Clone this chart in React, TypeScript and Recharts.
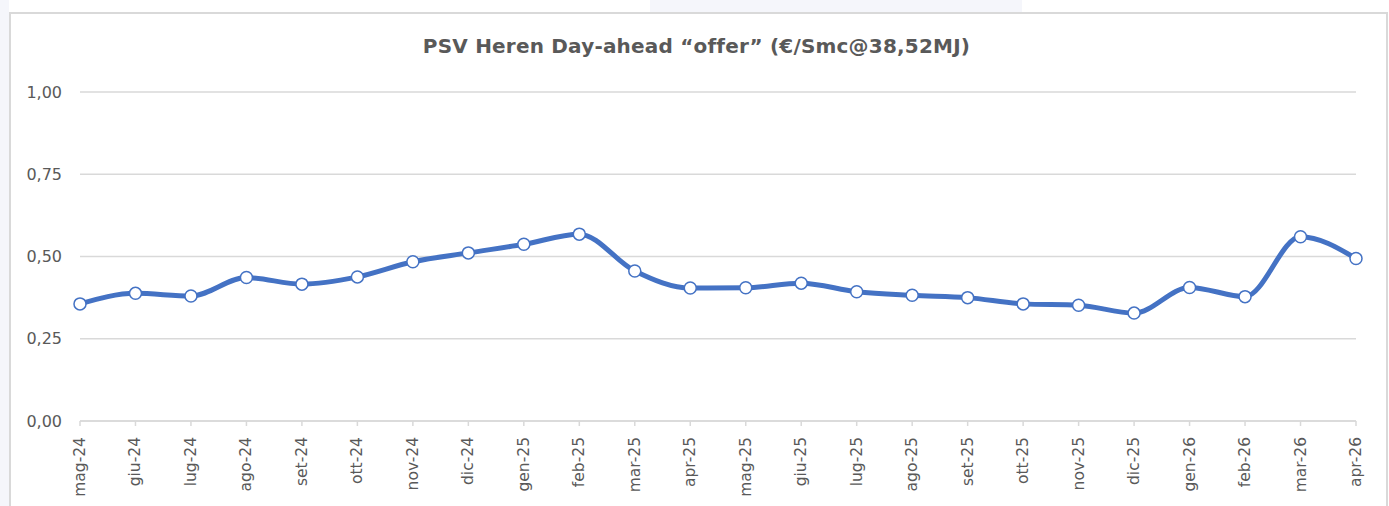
import { CartesianGrid, Line, LineChart, XAxis, YAxis } from "recharts";

const months = [
  "mag-24", "giu-24", "lug-24", "ago-24", "set-24", "ott-24", "nov-24", "dic-24",
  "gen-25", "feb-25", "mar-25", "apr-25", "mag-25", "giu-25", "lug-25", "ago-25",
  "set-25", "ott-25", "nov-25", "dic-25", "gen-26", "feb-26", "mar-26", "apr-26",
];

const offer = [
  0.356, 0.388, 0.38, 0.436, 0.416, 0.438, 0.484, 0.511,
  0.537, 0.568, 0.456, 0.404, 0.405, 0.419, 0.393, 0.382,
  0.375, 0.356, 0.352, 0.328, 0.406, 0.378, 0.56, 0.494,
];

const yTicks = [0, 0.25, 0.5, 0.75, 1];

const data = months.map((m, i) => ({ month: m, offer: offer[i] }));

const FONT = "'DejaVu Sans', Verdana, sans-serif";
const TEXT = "#595959";
const GRID = "#d9d9d9";
const BLUE = "#4472C4";

const fmt = (v: number) => v.toFixed(2).replace(".", ",");

function MonthTick({ x, y, payload }: any) {
  return (
    <text
      transform={`translate(${x},${y + 9}) rotate(-90)`}
      textAnchor="end"
      dominantBaseline="central"
      fontFamily={FONT}
      fontSize={15.5}
      fill={TEXT}
    >
      {payload.value}
    </text>
  );
}

function ValueTick({ y, payload }: any) {
  return (
    <text
      x={62}
      y={y}
      textAnchor="end"
      dominantBaseline="central"
      fontFamily={FONT}
      fontSize={16}
      fill={TEXT}
    >
      {fmt(payload.value)}
    </text>
  );
}

export default function App() {
  return (
    <div
      style={{
        position: "absolute",
        left: 0,
        top: 0,
        width: 1389,
        height: 506,
        overflow: "hidden",
        background: "#fff",
      }}
    >
      <div style={{ position: "absolute", left: 0, top: 0, width: 9, height: 506, background: "#f5f6fb" }} />
      <div style={{ position: "absolute", left: 650, top: 0, width: 372, height: 12, background: "#f5f6fb" }} />
      <div
        style={{
          position: "absolute",
          left: 9,
          top: 12,
          width: 1375,
          height: 510,
          border: `2px solid ${GRID}`,
          background: "#fff",
        }}
      />
      <div
        style={{
          position: "absolute",
          left: 0,
          top: 34,
          width: 1393,
          textAlign: "center",
          fontFamily: FONT,
          fontWeight: "bold",
          fontSize: 20,
          letterSpacing: 0.2,
          color: TEXT,
        }}
      >
        PSV Heren Day-ahead “offer” (€/Smc@38,52MJ)
      </div>
      <div style={{ position: "absolute", left: 0, top: 0 }}>
        <LineChart
          width={1389}
          height={506}
          data={data}
          margin={{ top: 92, right: 33, bottom: 0, left: 10 }}
        >
          <CartesianGrid vertical={false} stroke={GRID} strokeWidth={1.5} />
          <XAxis
            dataKey="month"
            scale="point"
            padding={{ left: 0, right: 0 }}
            interval={0}
            height={85}
            axisLine={{ stroke: GRID, strokeWidth: 1.5 }}
            tickLine={{ stroke: GRID, strokeWidth: 1.5 }}
            tickSize={5}
            tick={<MonthTick />}
          />
          <YAxis
            width={70}
            domain={[0, 1]}
            ticks={yTicks}
            axisLine={false}
            tickLine={false}
            tick={<ValueTick />}
          />
          <Line
            dataKey="offer"
            type="monotone"
            stroke={BLUE}
            strokeWidth={5}
            dot={{ r: 6, fill: "#fff", stroke: BLUE, strokeWidth: 1.5 }}
            activeDot={false}
            isAnimationActive={false}
          />
        </LineChart>
      </div>
    </div>
  );
}
